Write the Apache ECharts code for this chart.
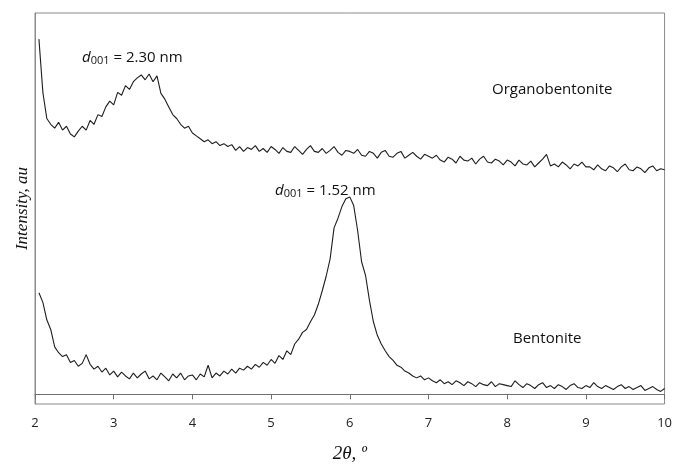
<!DOCTYPE html>
<html>
<head>
<meta charset="utf-8">
<script src="https://cdn.jsdelivr.net/npm/echarts@6/dist/echarts.min.js"></script>
<style>html,body{margin:0;padding:0;background:#fff}#c{width:675px;height:468px}</style>
</head>
<body>
<div id="c"></div>
<script>
// 2θ sampling grid (degrees)
const X_START = 2.05;
const X_STEP = 0.05;
const xTicks = [2, 3, 4, 5, 6, 7, 8, 9, 10];

// Intensity (a.u., arbitrary offset scale)
const organobentonite = [
 367,312,285,279,275,281,273,277,269,266,272,277,273,283,279,289,287,297,303,299,
 312,309,319,315,323,327,330,325,331,323,329,311,305,297,289,285,279,275,277,270,
 267,264,261,263,259,261,257,259,256,258,252,256,251,255,253,257,251,254,250,256,
 253,249,255,251,250,256,252,248,253,257,251,250,254,249,252,256,250,247,252,251,
 249,253,247,246,251,249,244,250,252,246,245,249,251,244,247,250,246,243,248,246,
 244,247,242,240,245,243,239,246,242,241,244,238,243,246,240,239,243,241,237,242,
 240,236,242,238,237,241,235,239,243,248,236,238,235,240,237,233,238,236,240,235,
 235,232,237,233,231,236,234,230,235,238,232,231,235,233,229,234,236,231,233,232
];
const bentonite = [
 105,95,77,67,49,43,39,41,33,35,29,32,41,31,26,29,23,27,20,24,
 18,23,19,16,22,17,21,24,16,19,15,22,18,14,21,17,22,15,19,20,
 15,21,18,30,17,22,19,24,21,26,22,27,25,29,26,31,28,33,30,36,
 32,40,36,45,41,52,57,64,67,75,82,93,107,122,140,172,182,194,202,204,
 195,169,137,123,97,75,61,52,45,39,35,30,28,24,22,19,17,19,15,17,
 14,12,15,11,13,10,14,12,9,13,11,8,12,10,9,13,8,11,10,9,
 8,14,10,7,11,9,6,10,12,7,9,6,10,8,5,9,11,7,6,9,
 7,12,8,6,9,7,5,8,10,6,8,5,7,9,4,6,8,5,3,6
];

function pairs(arr){ return arr.map((v,i)=>[+(X_START + i*X_STEP).toFixed(2), v]); }

const chart = echarts.init(document.getElementById('c'), null, {renderer:'canvas'});
const sans = '"Open Sans", sans-serif';
const serif = '"Liberation Serif", "DejaVu Serif", serif';
function dLabel(val){
  return {
    type:'text',
    style:{
      text:'{i|d}{s|001}{n| = ' + val + ' nm}',
      rich:{
        i:{fontFamily:sans,fontStyle:'italic',fontSize:15,fill:'#111'},
        s:{fontFamily:sans,fontSize:11,fill:'#111',verticalAlign:'bottom',padding:[7,0,0,0]},
        n:{fontFamily:sans,fontSize:15,fill:'#111'}
      }
    }
  };
}
const g1 = dLabel('2.30'); g1.left = 82; g1.top = 50;
const g2 = dLabel('1.52'); g2.left = 275; g2.top = 183;

chart.setOption({
  animation:false,
  backgroundColor:'#fff',
  grid:{left:35,right:10,top:13,bottom:51,show:true,borderColor:'#8a8a8a',borderWidth:1},
  xAxis:{
    type:'value', min:2, max:10, interval:1,
    name:'2θ, º', nameLocation:'middle', nameGap:40,
    nameTextStyle:{fontFamily:serif,fontStyle:'italic',fontSize:19,color:'#111'},
    axisLine:{show:true,lineStyle:{color:'#707070',width:1}},
    axisTick:{show:true,length:5,lineStyle:{color:'#707070'}},
    axisLabel:{color:'#222',fontFamily:sans,fontSize:13,margin:13,
      formatter:v=>xTicks.includes(v)?String(v):''},
    splitLine:{show:false}
  },
  yAxis:{
    type:'value', min:-10, max:394,
    name:'Intensity, au', nameLocation:'middle', nameGap:4,
    nameTextStyle:{fontFamily:serif,fontStyle:'italic',fontSize:17,color:'#111'},
    axisLine:{show:true,lineStyle:{color:'#8a8a8a'}},
    axisTick:{show:false}, axisLabel:{show:false}, splitLine:{show:false}
  },
  series:[
    {name:'Organobentonite',type:'line',data:pairs(organobentonite),showSymbol:false,
     lineStyle:{color:'#1e1e1e',width:1.1}},
    {name:'Bentonite',type:'line',data:pairs(bentonite),showSymbol:false,
     lineStyle:{color:'#1e1e1e',width:1.1}}
  ],
  graphic:[
    g1, g2,
    {type:'text',left:492,top:82,style:{text:'Organobentonite',fontFamily:sans,fontSize:15,fill:'#111'}},
    {type:'text',left:513,top:331,style:{text:'Bentonite',fontFamily:sans,fontSize:15,fill:'#111'}}
  ]
});
</script>
</body>
</html>
